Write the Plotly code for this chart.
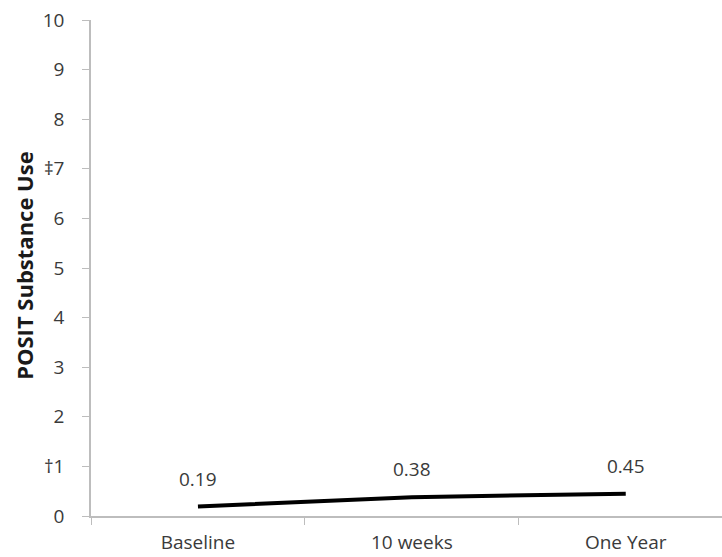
import plotly.graph_objects as go

categories = ["Baseline", "10 weeks", "One Year"]
values = [0.19, 0.38, 0.45]
value_labels = ["0.19", "0.38", "0.45"]
y_tickvals = [0, 1, 2, 3, 4, 5, 6, 7, 8, 9, 10]
y_ticktext = ["0", "†1", "2", "3", "4", "5", "6", "‡7", "8", "9", "10"]
y_title = "POSIT Substance Use"

font_family = "'Open Sans', sans-serif"
axis_color = "#bdbdbd"
text_color = "#3a3a3a"

fig = go.Figure()
fig.add_trace(go.Scatter(
    x=categories, y=values, mode="lines",
    line=dict(color="black", width=4),
    showlegend=False, hoverinfo="skip",
))

for c, v, t in zip(categories, values, value_labels):
    fig.add_annotation(x=c, y=v, text=t, showarrow=False, yshift=28,
                       font=dict(family=font_family, size=19, color=text_color))

fig.add_annotation(xref="paper", x=-0.1065, yref="y", y=5.06, text=f"<b>{y_title}</b>",
                   textangle=-90, showarrow=False, xanchor="center", yanchor="middle",
                   font=dict(family=font_family, size=22, color="#1a1a1a"))

fig.update_layout(
    width=722, height=557,
    margin=dict(l=91, r=0, t=20, b=41),
    paper_bgcolor="white", plot_bgcolor="white",
    font=dict(family=font_family, size=19, color=text_color),
)
fig.update_xaxes(
    type="category", range=[-0.5, 2.45],
    showline=True, linecolor=axis_color, linewidth=1.5,
    ticks="outside", tickson="boundaries", ticklen=7, tickcolor=axis_color,
    showgrid=False, zeroline=False,
    tickfont=dict(family=font_family, size=19, color=text_color),
    ticklabelstandoff=8,
)
fig.update_yaxes(
    range=[0, 10], tickvals=y_tickvals, ticktext=y_ticktext,
    showline=True, linecolor=axis_color, linewidth=1.5,
    ticks="outside", ticklen=7, tickcolor=axis_color,
    showgrid=False, zeroline=False,
    tickfont=dict(family=font_family, size=19, color=text_color),
    ticklabelstandoff=14,
)

fig.write_html("out.html")
